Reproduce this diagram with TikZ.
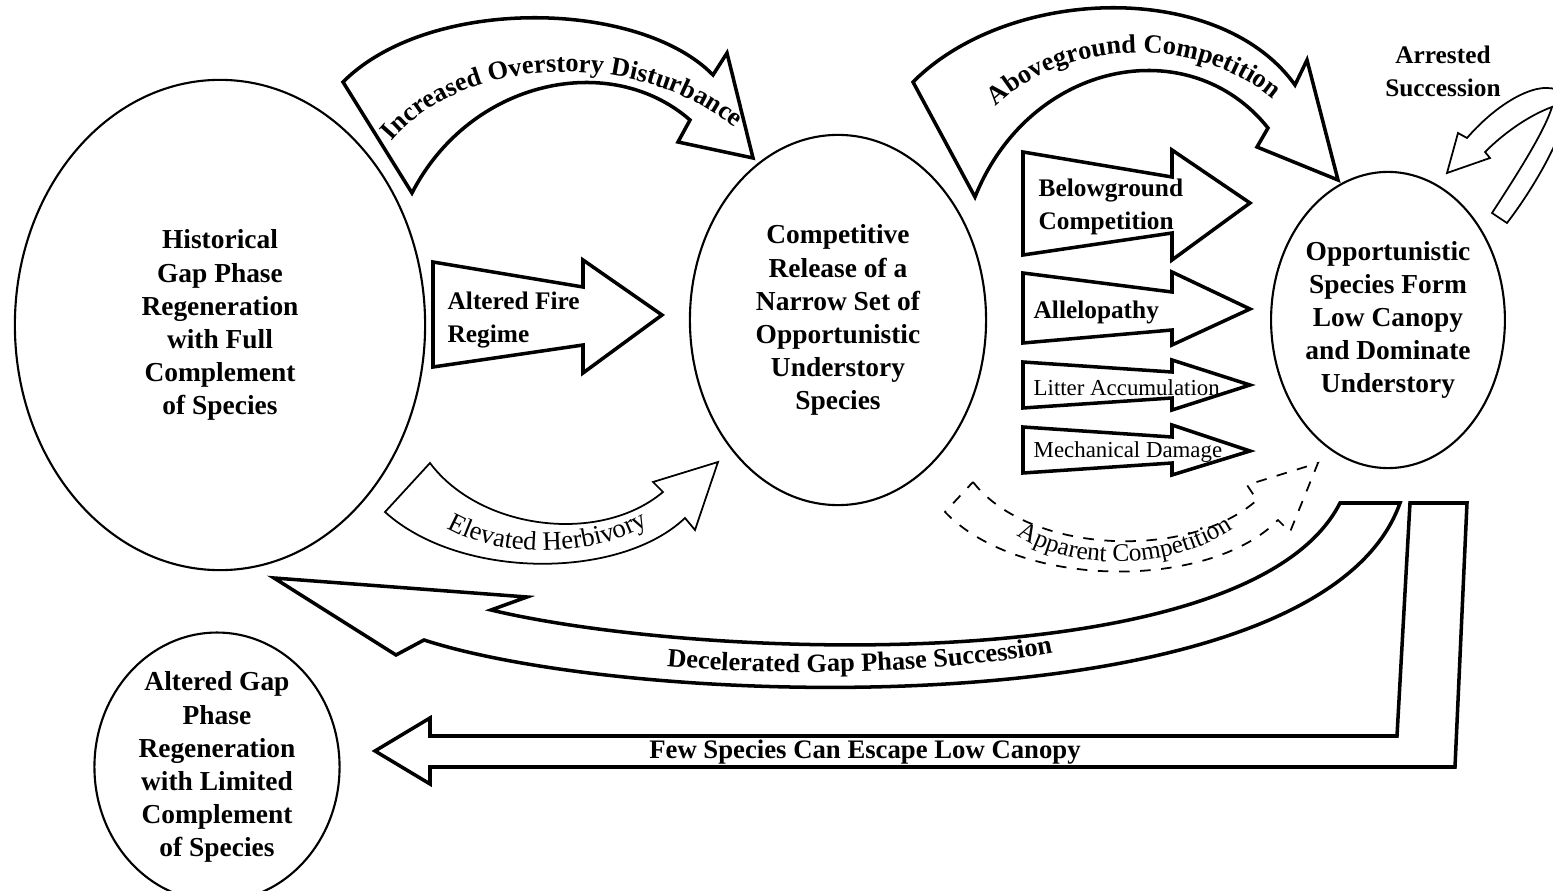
\documentclass[tikz,border=0pt]{standalone}
\usepackage{fontspec}
\setmainfont{Liberation Serif}
\usetikzlibrary{shapes.geometric,decorations.text}

\begin{document}
\begin{tikzpicture}[x=0.01cm,y=-0.01cm,
  blob/.style={draw,ellipse,line width=0.6pt,inner sep=0pt,align=center,font=\bfseries\fontsize{7.8}{9.4}\selectfont},
  fat/.style={draw,line width=1pt,line join=miter},
  slim/.style={draw,line width=0.5pt},
  lab/.style={anchor=west,align=left,inner sep=0pt,font=\bfseries\fontsize{7.2}{9.4}\selectfont},
  small/.style={anchor=west,inner sep=0pt,font=\fontsize{6.5}{7.5}\selectfont}]
\useasboundingbox (0,0) rectangle (1553,891);
\clip (0,0) rectangle (1553,891);

\node[blob,minimum width=4.1cm,minimum height=4.9cm] (hist) at (220,325) {Historical\\Gap Phase\\Regeneration\\with Full\\Complement\\of Species};
\node[blob,minimum width=2.96cm,minimum height=3.7cm] (release) at (838,320) {Competitive\\Release of a\\Narrow Set of\\Opportunistic\\Understory\\Species};
\node[blob,minimum width=2.24cm,minimum height=2.96cm] (opport) at (1388,320) {Opportunistic\\Species Form\\Low Canopy\\and Dominate\\Understory};
\node[blob,minimum width=2.45cm,minimum height=2.44cm] (limited) at (217,767) {Altered Gap\\Phase\\Regeneration\\with Limited\\Complement\\of Species};

\draw[fat] (343,82) -- (412,193) .. controls (470,80) and (610,50) .. (690,120) -- (678,142) -- (753,158) -- (727,53) -- (713,75) .. controls (640,0) and (430,-5) .. (343,82) -- cycle;
\path[decoration={text along path,text align=center,text={|\bfseries\fontsize{7.5}{9}\selectfont|Increased Overstory Disturbance}},decorate] (388,146) .. controls (457,55) and (640,45) .. (740,132);

\draw[fat] (913,82) -- (975,197) .. controls (1030,60) and (1190,30) .. (1268,128) -- (1257,147) -- (1338,180) -- (1307,60) -- (1295,85) .. controls (1220,-20) and (1010,-15) .. (913,82) -- cycle;
\path[decoration={text along path,text align=center,text={|\bfseries\fontsize{7.5}{9}\selectfont|Aboveground Competition}},decorate] (985,118) .. controls (1055,35) and (1205,30) .. (1285,110);

\draw[fat] (433,262) -- (583,287) -- (583,260) -- (662,315) -- (583,373) -- (583,345) -- (433,367) -- cycle;
\node[lab] (fire) at (447,320) {Altered Fire\\Regime};

\draw[fat] (1023,152) -- (1172,177) -- (1172,150) -- (1250,203) -- (1172,260) -- (1172,233) -- (1023,255) -- cycle;
\node[lab] (below) at (1038,207) {Belowground\\Competition};
\draw[fat] (1023,273) -- (1172,292) -- (1172,272) -- (1250,309) -- (1172,345) -- (1172,330) -- (1023,343) -- cycle;
\node[lab] (allelo) at (1033,312) {Allelopathy};
\draw[fat] (1023,362) -- (1172,372) -- (1172,360) -- (1250,385) -- (1172,410) -- (1172,398) -- (1023,408) -- cycle;
\node[small] (litter) at (1033,388) {Litter Accumulation};
\draw[fat] (1023,427) -- (1172,437) -- (1172,425) -- (1250,451) -- (1172,475) -- (1172,463) -- (1023,473) -- cycle;
\node[small] (mech) at (1033,452) {Mechanical Damage};

\draw[slim] (430,463) .. controls (480,530) and (600,545) .. (663,492) -- (653,482) -- (718,462) -- (695,530) -- (685,518) .. controls (620,580) and (460,580) .. (385,512) -- cycle;
\path[decoration={text along path,text align=center,text={|\fontsize{7.6}{9}\selectfont|Elevated Herbivory}},decorate] (445,527) .. controls (500,559) and (590,559) .. (650,524);

\draw[slim,dashed] (973,482) .. controls (1030,555) and (1190,560) .. (1257,500) -- (1247,485) -- (1318,463) -- (1290,532) -- (1278,520) .. controls (1210,590) and (1020,590) .. (945,512) -- cycle;
\path[decoration={text along path,text align=center,text={|\fontsize{7.2}{9}\selectfont|Apparent Competition}},decorate] (1015,534) .. controls (1070,572) and (1170,572) .. (1235,528);

\draw[fat] (1340,503) .. controls (1250,680) and (700,660) .. (491,610) -- (527,597) -- (274,578) -- (396,655) -- (424,640) .. controls (640,710) and (1320,730) .. (1400,503) -- cycle;
\path[decoration={text along path,text align=center,text={|\bfseries\fontsize{7.5}{9}\selectfont|Decelerated Gap Phase Succession}},decorate] (655,665) .. controls (760,677) and (950,675) .. (1065,650);

\draw[fat] (1410,503) -- (1397,736) -- (430,736) -- (430,718) -- (375,751) -- (430,784) -- (430,767) -- (1455,767) -- (1467,503) -- cycle;
\node[font=\bfseries\fontsize{7.6}{9}\selectfont] (few) at (865,752) {Few Species Can Escape Low Canopy};

\draw[slim] (1492,213) -- (1507,223) .. controls (1540,180) and (1575,115) .. (1565,95) .. controls (1545,75) and (1500,100) .. (1467,138) -- (1458,133) -- (1447,173) -- (1490,158) -- (1485,152) .. controls (1505,132) and (1530,115) .. (1552,107) .. controls (1545,130) and (1520,170) .. (1492,213) -- cycle;
\node[align=center,inner sep=0pt,font=\bfseries\fontsize{7.2}{9.4}\selectfont] (arrested) at (1443,71) {Arrested\\Succession};

\end{tikzpicture}
\end{document}
